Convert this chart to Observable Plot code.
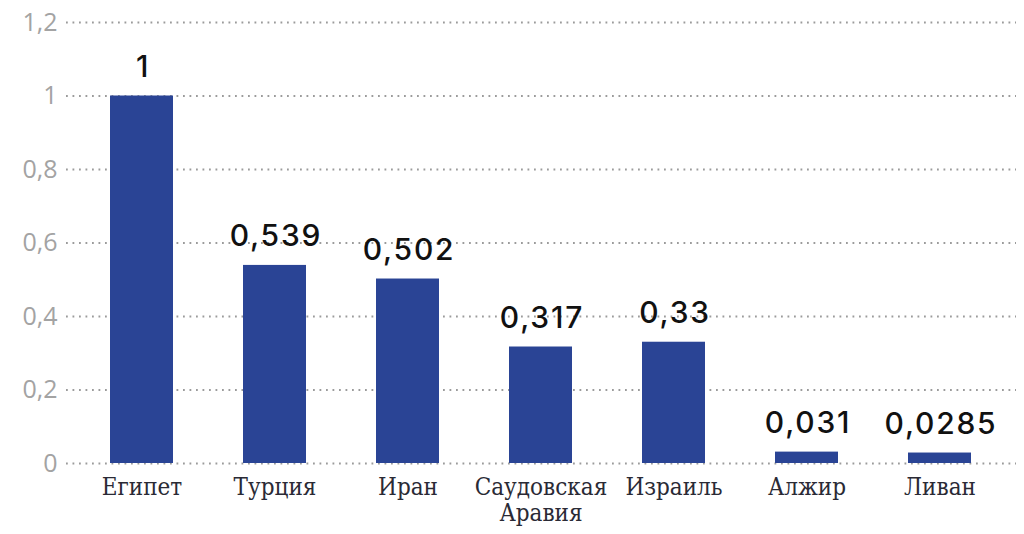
<!DOCTYPE html>
<html><head><meta charset="utf-8">
<script src="https://cdn.jsdelivr.net/npm/d3@7"></script>
<script src="https://cdn.jsdelivr.net/npm/@observablehq/plot@0.6"></script>
<style>
body{margin:0;background:#fff;}
#chart svg{display:block;}
#chart g[aria-label="text"] text{letter-spacing:1.8px;}
</style>
</head><body><div id="chart"></div>
<script>
const countries = ["Египет","Турция","Иран","Саудовская Аравия","Израиль","Алжир","Ливан"];
const values = [1, 0.539, 0.502, 0.317, 0.33, 0.031, 0.0285];
const labels = ["1","0,539","0,502","0,317","0,33","0,031","0,0285"];
const yTicks = [0,0.2,0.4,0.6,0.8,1,1.2];

const data = countries.map((c,i)=>({country:c, value:values[i], label:labels[i]}));
const fmt = v => v===0 ? "0" : String(v).replace(".", ",");

const chart = Plot.plot({
  width:1024, height:534,
  marginLeft:66, marginRight:8, marginTop:22, marginBottom:71,
  style:{background:"#fff"},
  x:{domain:countries, paddingInner:0.525, paddingOuter:0.31, label:null},
  y:{domain:[0,1.2], label:null},
  marks:[
    Plot.ruleY(yTicks, {stroke:"#8a8a8a", strokeWidth:1.8, strokeDasharray:"1.8,4.7", strokeOpacity:0.85}),
    Plot.barY(data, {x:"country", y:"value", fill:"#2a4495"}),
    Plot.text(data, {x:"country", y:"value", text:"label", dy:-19, dx:1, fontSize:30, fontWeight:500, fill:"#111", fontFamily:"Inter, sans-serif", lineAnchor:"bottom"}),
    Plot.axisY({ticks:yTicks, tickFormat:fmt, tickSize:0, tickPadding:9, fontSize:25, fill:"#a3a3a3", fontFamily:"'Open Sans', sans-serif", label:null}),
    Plot.axisX({tickSize:0, tickPadding:14, fontSize:24, fill:"#2a2a35", fontFamily:"'DejaVu Serif Condensed', 'DejaVu Serif', serif", tickFormat:d=>d.replace(" ","\n"), label:null, lineHeight:1.05})
  ]
});
document.getElementById("chart").appendChild(chart);
</script></body></html>
